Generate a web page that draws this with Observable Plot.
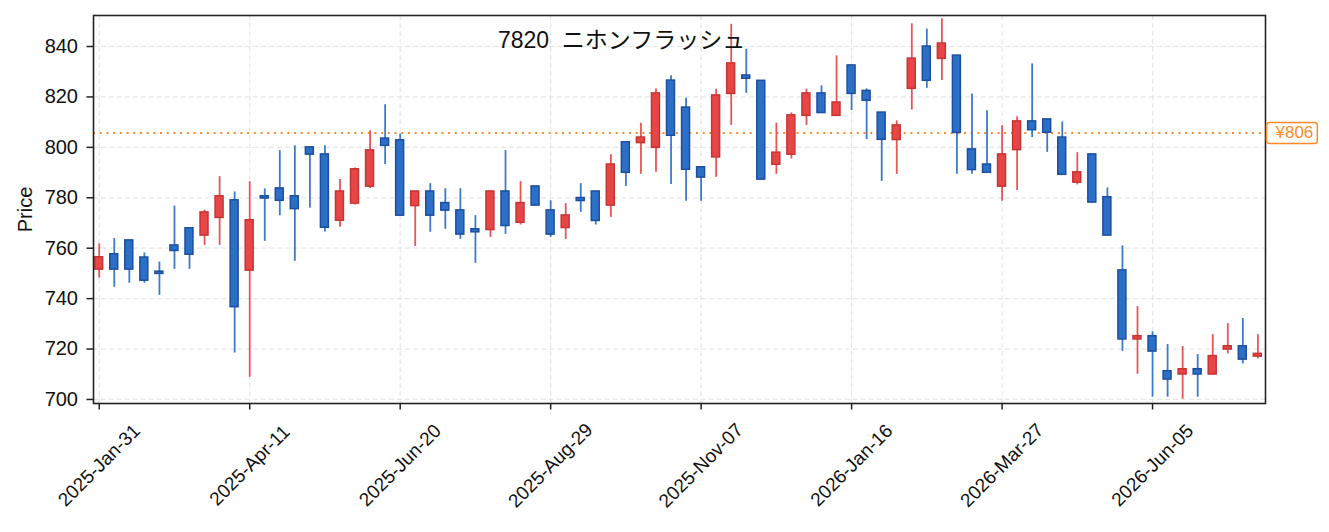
<!DOCTYPE html>
<html><head><meta charset="utf-8">
<script src="https://cdn.jsdelivr.net/npm/d3@7"></script>
<script src="https://cdn.jsdelivr.net/npm/@observablehq/plot@0.6"></script>
<style>
body{margin:0;background:#fff;}
svg text{white-space:pre;}
</style>
</head><body><div id="chart"></div>
<script>
const dates = [
"2025-01-31","2025-02-07","2025-02-14","2025-02-21","2025-02-28","2025-03-07","2025-03-14","2025-03-21","2025-03-28","2025-04-04",
"2025-04-11","2025-04-18","2025-04-25","2025-05-02","2025-05-09","2025-05-16","2025-05-23","2025-05-30","2025-06-06","2025-06-13",
"2025-06-20","2025-06-27","2025-07-04","2025-07-11","2025-07-18","2025-07-25","2025-08-01","2025-08-08","2025-08-15","2025-08-22",
"2025-08-29","2025-09-05","2025-09-12","2025-09-19","2025-09-26","2025-10-03","2025-10-10","2025-10-17","2025-10-24","2025-10-31",
"2025-11-07","2025-11-14","2025-11-21","2025-11-28","2025-12-05","2025-12-12","2025-12-19","2025-12-26","2026-01-02","2026-01-09",
"2026-01-16","2026-01-23","2026-01-30","2026-02-06","2026-02-13","2026-02-20","2026-02-27","2026-03-06","2026-03-13","2026-03-20",
"2026-03-27","2026-04-03","2026-04-10","2026-04-17","2026-04-24","2026-05-01","2026-05-08","2026-05-15","2026-05-22","2026-05-29",
"2026-06-05","2026-06-12","2026-06-19","2026-06-26","2026-07-03","2026-07-10","2026-07-17","2026-07-24"];
const opens = [
751.5,757.6,763.1,756.3,750.7,761.1,767.9,765.0,772.0,779.0,
751.1,780.6,783.7,780.6,800.0,797.2,770.9,777.7,784.4,803.5,
802.8,776.7,782.5,777.9,775.0,767.5,767.2,782.5,770.1,784.5,
775.0,768.0,779.9,782.5,776.9,802.0,801.7,799.8,826.5,815.8,
792.1,796.0,821.2,828.5,826.4,793.1,797.1,812.5,821.4,812.5,
832.5,822.4,813.8,802.9,823.2,840.0,835.1,836.4,799.2,793.2,
784.4,798.9,810.3,811.1,803.9,786.0,797.2,780.2,751.2,723.8,
725.1,711.2,709.9,712.0,709.9,719.8,721.1,717.0];
const highs = [
761.7,763.8,763.1,758.1,754.5,776.7,767.9,775.1,788.4,782.3,
786.4,783.5,798.7,800.6,800.2,800.6,787.2,791.8,806.6,816.9,
805.3,782.6,785.6,783.6,783.6,772.9,782.6,798.7,786.4,784.6,
778.8,777.7,785.6,782.6,797.1,802.1,809.6,823.1,828.4,819.5,
792.2,823.1,848.8,838.9,826.5,809.6,813.7,823.1,824.4,836.3,
832.6,823.2,813.9,810.5,849.0,846.9,851.0,836.5,821.2,814.5,
808.6,812.1,833.1,811.2,810.1,797.9,797.3,783.9,760.9,736.8,
726.8,721.8,721.0,717.8,725.7,730.1,732.1,725.7];
const lows = [
748.1,744.5,746.1,746.1,741.3,751.6,751.6,761.1,761.1,718.4,
708.8,762.7,772.9,754.8,775.9,766.4,768.3,777.1,783.7,793.2,
772.9,760.7,766.3,767.5,763.5,754.0,764.3,765.5,769.2,776.8,
764.3,763.5,774.2,769.2,772.2,784.5,789.3,790.1,785.3,778.6,
778.6,788.1,808.7,821.4,787.1,789.3,795.4,808.7,813.5,812.4,
814.6,803.1,786.5,789.3,814.8,823.4,826.5,789.3,789.3,789.8,
778.6,782.9,803.9,798.0,789.0,785.1,778.0,764.9,719.1,710.0,
700.9,700.9,700.1,700.9,709.8,718.1,714.1,716.1];
const closes = [
756.4,751.5,751.5,747.1,749.8,758.9,757.4,774.2,780.6,736.6,
771.1,779.7,778.8,775.5,797.1,768.1,782.5,791.3,798.8,800.6,
772.9,782.5,772.9,774.9,765.4,766.3,782.5,768.8,777.9,776.9,
765.4,773.0,778.7,770.8,793.2,789.9,803.9,821.4,804.6,791.1,
788.0,820.6,833.3,827.2,787.2,797.9,812.7,821.4,813.6,817.8,
821.2,818.5,803.0,808.7,835.2,826.4,841.2,805.7,791.0,789.9,
797.2,810.3,806.8,805.8,789.1,790.1,778.1,765.0,723.8,725.1,
719.0,707.9,712.0,709.9,717.2,721.1,715.8,718.1];
const tickDates = ["2025-01-31","2025-04-11","2025-06-20","2025-08-29","2025-11-07","2026-01-16","2026-03-27","2026-06-05"];
const yTicks = [700,720,740,760,780,800,820,840];
const refPrice = 805.7;
const title = "7820  ニホンフラッシュ";
const yLabel = "Price";

const parse = d3.utcParse("%Y-%m-%d");
const fmt = d3.utcFormat("%Y-%b-%d");
const data = dates.map((d, i) => ({
  date: parse(d), open: opens[i], high: highs[i], low: lows[i], close: closes[i]
}));
const ticks = tickDates.map(parse);
const first = data[0].date, last = data[data.length - 1].date;
const hours = (d, h) => d3.utcHour.offset(d, h);
const xDomain = [hours(first, -0.38 * 168), hours(last, 0.51 * 168)];

const upFill = "#e64646", upStroke = "#c83434", upWick = "#e85555";
const dnFill = "#2c6fc7", dnStroke = "#1d4f9f", dnWick = "#3a7bcd";
const orange = "#ff8a2a";
const font = "'Liberation Sans', Arial, 'Noto Sans CJK JP', sans-serif";

const chart = Plot.plot({
  width: 1329,
  height: 532,
  marginLeft: 93,
  marginRight: 64,
  marginTop: 15,
  marginBottom: 129,
  style: {fontFamily: font, fontSize: "19px", color: "#111", background: "#fff"},
  x: {type: "utc", domain: xDomain},
  y: {domain: [698.4, 852.3]},
  marks: [
    Plot.gridX(ticks, {stroke: "#e6e6e6", strokeOpacity: 1, strokeDasharray: "5,3", strokeWidth: 1.2}),
    Plot.gridY(yTicks, {stroke: "#e6e6e6", strokeOpacity: 1, strokeDasharray: "5,3", strokeWidth: 1.2}),
    Plot.ruleY([refPrice], {stroke: orange, strokeWidth: 2, strokeDasharray: "2,4.7"}),
    Plot.ruleX(data, {x: "date", y1: "low", y2: "high",
      stroke: d => d.close >= d.open ? upWick : dnWick, strokeWidth: 1.8}),
    Plot.rect(data, {
      x1: d => hours(d.date, -1.85 * 24), x2: d => hours(d.date, 1.85 * 24),
      y1: "open", y2: "close",
      fill: d => d.close >= d.open ? upFill : dnFill,
      stroke: d => d.close >= d.open ? upStroke : dnStroke, strokeWidth: 1.5
    }),
    Plot.frame({stroke: "#222", strokeWidth: 1.6}),
    Plot.axisY(yTicks, {tickSize: 6.5, tickPadding: 9, strokeWidth: 1.5, stroke: "#222",
      label: yLabel, labelAnchor: "center", labelArrow: "none", labelOffset: 76, fontSize: 20}),
    Plot.axisX(ticks, {tickSize: 6.5, strokeWidth: 1.5, stroke: "#222", tickFormat: () => "", label: null}),
    Plot.text(ticks, {x: d => d, text: d => fmt(d), frameAnchor: "bottom", rotate: -45,
      textAnchor: "middle", lineAnchor: "middle", dy: 62, fontSize: 19, fill: "#111"}),
    Plot.text([title], {frameAnchor: "top", text: d => d, dx: -58, dy: 25, lineAnchor: "middle",
      fontSize: 23, fill: "#111"}),
    Plot.text([refPrice], {y: d => d, text: d => `¥${Math.round(d)}`, frameAnchor: "right",
      textAnchor: "start", dx: 10, fill: orange, fontSize: 17, className: "ref-label"})
  ]
});
document.getElementById("chart").appendChild(chart);

// rounded box behind the price label
const svgEl = chart.tagName.toLowerCase() === "svg" ? chart : chart.querySelector("svg");
d3.select(svgEl).selectAll("g.ref-label text").each(function() {
  const b = this.getBBox();
  const r = d3.select(this.parentNode).insert("rect", "text")
    .attr("x", b.x - 8).attr("y", b.y - 1)
    .attr("width", b.width + 12).attr("height", b.height + 2)
    .attr("rx", 3).attr("fill", "#fff").attr("stroke", orange).attr("stroke-width", 1.5);
  const t = this.getAttribute("transform");
  if (t) r.attr("transform", t);
});
</script>
</body></html>
